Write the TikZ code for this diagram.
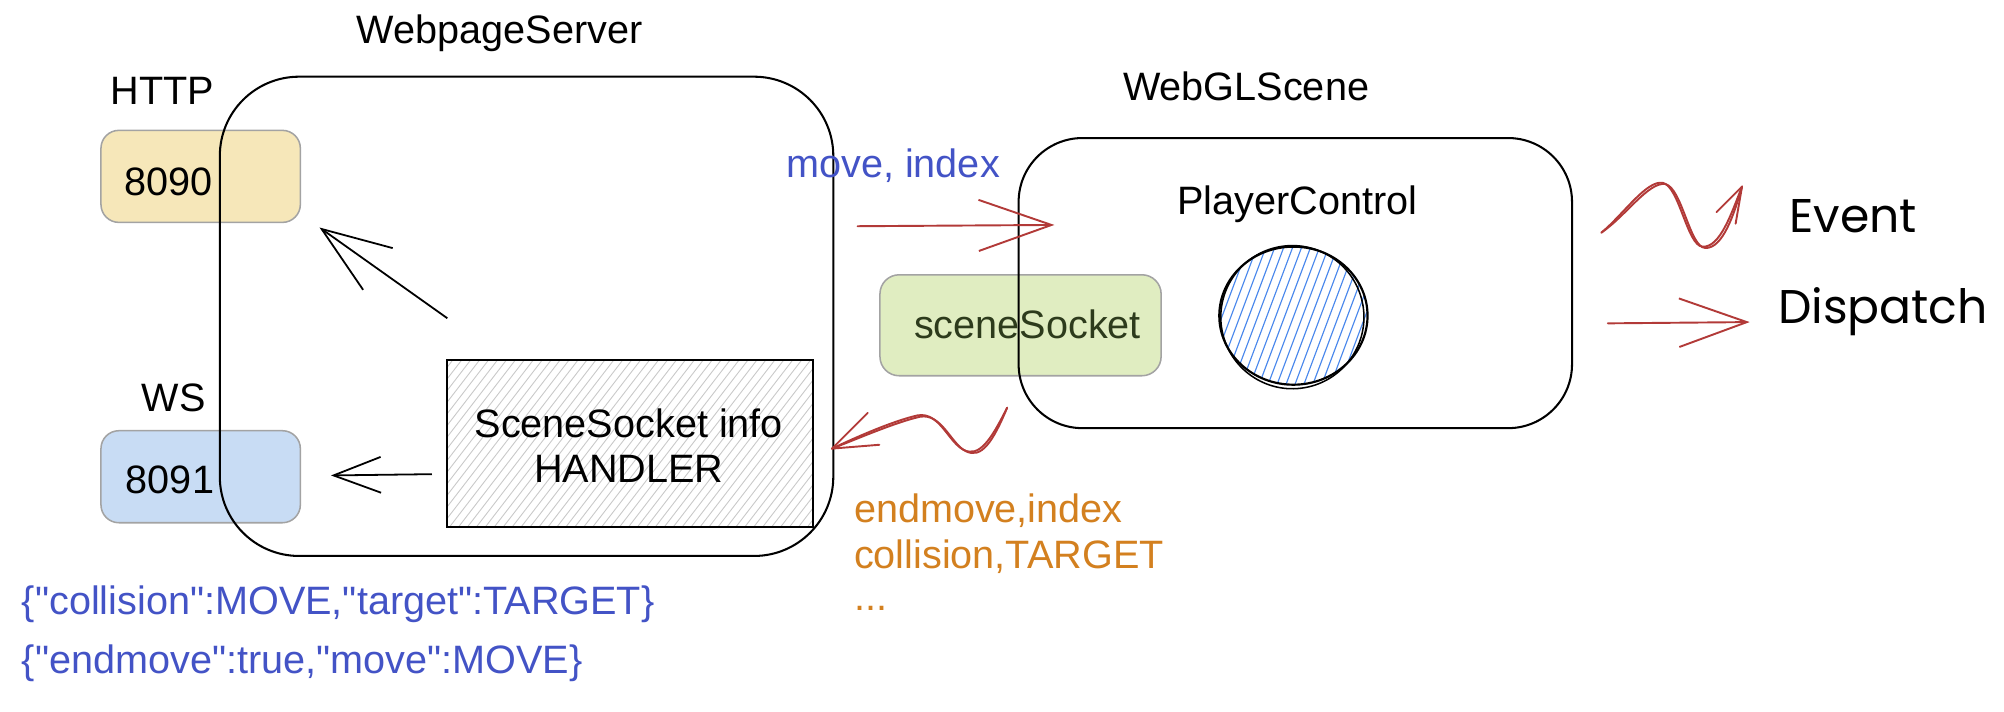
\documentclass[tikz,border=0pt]{standalone}
\usepackage{fontspec}
\setmainfont{Liberation Sans}
\newfontfamily\handfont{Poppins}
\font\plainsans="Liberation Sans" at 31pt
\usetikzlibrary{arrows.meta}
\definecolor{txtblue}{HTML}{4353C6}
\definecolor{txtorange}{HTML}{D3801F}
\definecolor{arrred}{HTML}{B23A38}
\definecolor{httpfill}{HTML}{F6E7B9}
\definecolor{wsfill}{HTML}{C8DCF4}
\definecolor{sockfill}{HTML}{E0EDC1}
\definecolor{boxstroke}{HTML}{A3A3A3}
\definecolor{socktext}{HTML}{2D3B1C}
\definecolor{hatchgray}{HTML}{C9C9C9}
\definecolor{hatchblue}{HTML}{4A88EC}
\begin{document}
\begin{tikzpicture}[x=1pt,y=-1pt,
  lbl/.style={font=\fontsize{31}{35}\selectfont, inner sep=0pt, anchor=base},
  jsonlbl/.style={font=\plainsans, inner sep=0pt, anchor=base west, text=txtblue},
  hand/.style={font=\handfont\fontsize{37}{40}\selectfont, inner sep=0pt, anchor=base west},
  port/.style={draw=boxstroke, line width=1.2pt, rounded corners=14pt, minimum width=156pt, minimum height=72pt, inner sep=0pt},
  bigbox/.style={draw=black, line width=1.6pt, inner sep=0pt},
  blackarr/.style={draw=black, line width=1.4pt},
  redarr/.style={draw=arrred, line width=1.5pt, line cap=round, line join=round},
]
\useasboundingbox (0,0) rectangle (1568,557);

% ports (behind the server box)
\node[port, fill=httpfill] (http) at (157,138) {};
\node[port, fill=wsfill] (ws) at (157,373) {};
\node[lbl] (httpnum) at (132,153) {8090};
\node[lbl] (wsnum) at (133,386) {8091};
\node[lbl] (httplbl) at (127,82) {HTTP};
\node[lbl] (wslbl) at (136,322) {WS};

% handler box with hatching
\begin{scope}
  \clip (350,282) rectangle (636,412);
  \foreach \x in {240,247,...,640} \draw[hatchgray, line width=0.7pt] (\x,412) -- ++(100,-130);
\end{scope}
\node[draw=black, line width=1.5pt, minimum width=286pt, minimum height=130pt, inner sep=0pt] (handler) at (493,347) {};
\node[lbl, anchor=center, align=center] (handlertxt) at (492,348.5) {SceneSocket info\\HANDLER};

% server box
\node[bigbox, rounded corners=62pt, minimum width=480pt, minimum height=375pt] (server) at (412,247.5) {};
\node[lbl] (serverlbl) at (391,34) {WebpageServer};

% black arrows
\coordinate (a1s) at (350,249);
\coordinate (a2s) at (338,371);
\draw[blackarr, -{Straight Barb[length=54pt,width=40pt]}] (a1s) -- (250,178) coordinate (a1e);
\draw[blackarr, -{Straight Barb[length=37pt,width=28pt]}] (a2s) -- (259,372) coordinate (a2e);

% JSON texts
\node[jsonlbl] (json1) at (17,481) {\{"collision":MOVE,"target":TARGET\}};
\node[jsonlbl] (json2) at (17,527) {\{"endmove":true,"move":MOVE\}};

% sceneSocket (behind scene box)
\node[draw=boxstroke, fill=sockfill, line width=1.2pt, rounded corners=15pt, minimum width=220pt, minimum height=79pt, inner sep=0pt] (sock) at (798.5,254.5) {};
\node[lbl, text=socktext] (socklbl) at (804,265) {sceneSocket};

% player circle
\begin{scope}
  \clip (1012,247) ellipse [x radius=58pt, y radius=54pt];
  \foreach \x in {925,932,...,1080} \draw[hatchblue, line width=0.9pt] (\x,312) -- ++(48,-128);
\end{scope}
\draw[line width=1.7pt] (1012,247) ellipse [x radius=58pt, y radius=54pt];
\draw[line width=1.2pt, rotate around={10:(1012,247)}] (1011,248) ellipse [x radius=56pt, y radius=56pt];

% scene box
\node[bigbox, rounded corners=50pt, minimum width=433pt, minimum height=227pt] (scene) at (1013.5,221.5) {};
\node[lbl] (scenelbl) at (975,79) {WebGLScene};
\node[lbl] (playerlbl) at (1015,168) {PlayerControl};

% move, index arrow
\node[lbl, anchor=base west, text=txtblue] (movelbl) at (615,139) {move, index};
\coordinate (mvs) at (671,177);
\coordinate (mve) at (825,176);
\draw[redarr, -{Straight Barb[length=57pt,width=40pt]}] (mvs) -- (mve);

% wavy return arrow
\coordinate (rs) at (788,319);
\coordinate (rt) at (651,351);
\foreach \d in {0,1.8} {
  \draw[redarr, shift={(\d,\d*0.6)}] (rs) .. controls (775,345) and (766,358) .. (754,352) .. controls (742,346) and (735,322) .. (718,325) .. controls (700,329) and (672,341) .. (rt);
}
\draw[redarr] (rt) -- ++(28,-28);
\draw[redarr] (rt) -- ++(37,-3);

% orange texts
\node[lbl, anchor=base west, text=txtorange] (endlbl) at (668,409) {endmove,index};
\node[lbl, anchor=base west, text=txtorange] (collbl) at (668,445) {collision,TARGET};
\node[lbl, anchor=base west, text=txtorange] (dotslbl) at (668,478) {...};

% event arrow
\coordinate (es) at (1253,182);
\coordinate (et) at (1363,146);
\foreach \d in {0,2} {
  \draw[redarr, shift={(\d,\d*0.5)}] (es) .. controls (1270,168) and (1288,141) .. (1301,143) .. controls (1314,146) and (1320,192) .. (1332,193) .. controls (1346,194) and (1355,166) .. (et);
}
\draw[redarr] (et) -- ++(-20,20);
\draw[redarr] (et) -- ++(-5,29);
\node[hand] (eventlbl) at (1400,182) {Event};

% dispatch arrow
\coordinate (ds) at (1258,253);
\coordinate (de) at (1369,252);
\draw[redarr, -{Straight Barb[length=53pt,width=38pt]}] (ds) -- (de);
\node[hand] (displbl) at (1391,253) {Dispatch};
\end{tikzpicture}
\end{document}
